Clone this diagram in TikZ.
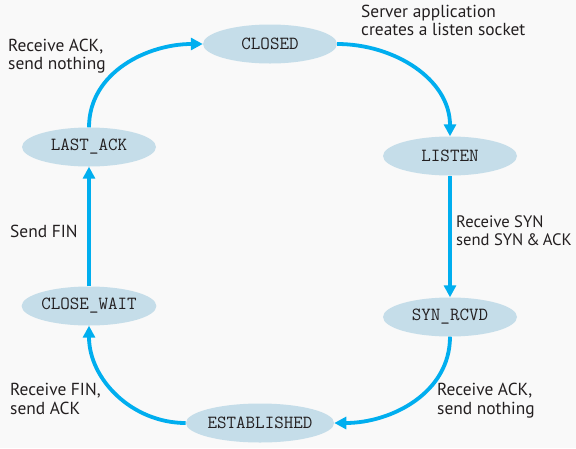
\documentclass[tikz,border=0pt]{standalone}
\usepackage{fontspec}
\setmainfont{PT Sans}
\usetikzlibrary{shapes,arrows.meta}
\definecolor{bgray}{RGB}{249,249,249}
\definecolor{stfill}{RGB}{197,221,233}
\definecolor{arccyan}{RGB}{0,174,239}
\definecolor{ink}{RGB}{35,31,32}

\begin{document}
\begin{tikzpicture}[x=1pt,y=-1pt]
    \tikzstyle{state}=[ellipse,fill=stfill,minimum width=134pt,minimum height=39pt,inner sep=0pt,font=\fontsize{18.5}{20}\selectfont\ttfamily,text=ink]
    \tikzstyle{note}=[anchor=base west,align=left,inner sep=0pt,font=\fontsize{17.4}{18.5}\selectfont,text=ink]
    \tikzstyle{trans}=[draw=arccyan,line width=3.8pt,-{Triangle[length=12pt,width=12pt]}]
    \fill[bgray] (0,0) rectangle (576,448);
    \useasboundingbox (0,0) rectangle (576,448);
    \node[state] (closed) at (270,44) {CLOSED};
    \node[state] (listen) at (450,156) {LISTEN};
    \node[state] (synrcvd) at (450,317) {SYN\_RCVD};
    \node[state] (established) at (260,423) {ESTABLISHED};
    \node[state] (closewait) at (89,306) {CLOSE\_WAIT};
    \node[state] (lastack) at (89,147) {LAST\_ACK};
    \draw[trans] (closed) to[out=0,in=90] (listen);
    \draw[trans] (listen) -- (synrcvd);
    \draw[trans] (synrcvd) to[out=-90,in=0] (established);
    \draw[trans] (established) to[out=180,in=-90] (closewait);
    \draw[trans] (closewait) -- (lastack);
    \draw[trans] (lastack) to[out=90,in=180] (closed);
    \node[note] (srvnote) at (361,35.5) {Server application\\creates a listen socket};
    \node[note,font=\fontsize{16.6}{18.5}\selectfont] (synnote) at (456,245.5) {Receive SYN\\send SYN\hspace{3pt}\&\hspace{3pt}ACK};
    \node[note] (acknote) at (437,414) {Receive ACK,\\send nothing};
    \node[note] (finnote) at (10,414) {Receive FIN,\\send ACK};
    \node[note] (sendnote) at (10,237) {Send FIN};
    \node[note] (lastnote) at (8,69.5) {Receive ACK,\\send nothing};
\end{tikzpicture}
\end{document}
